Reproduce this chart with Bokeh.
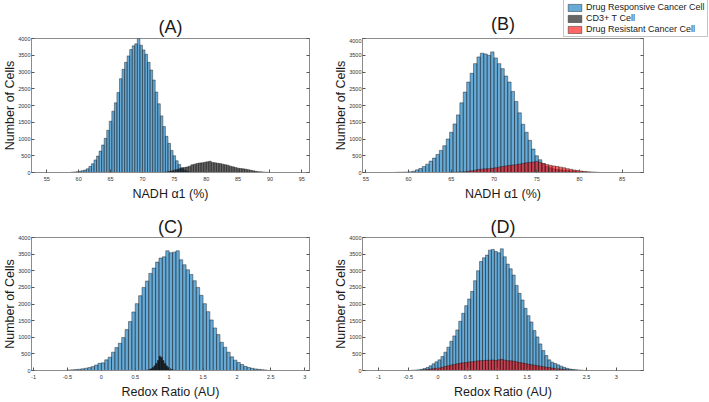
import numpy as np
from bokeh.plotting import figure
from bokeh.models import Range1d, LinearAxis, FixedTicker, Legend, LegendItem, Label
from bokeh.layouts import column, row
from bokeh.embed import file_html
from bokeh.resources import INLINE

FONT = "Liberation Sans"

# ---------------- data (bin start edge, bin width, counts) ----------------
# Panel A: NADH alpha1 (%)
a_blue_start, a_blue_width = 58.8, 0.4
a_blue_counts = [10, 15, 25, 35, 55, 75, 110, 180, 260, 375, 490, 640, 820, 1020, 1260,
                 1530, 1830, 2080, 2390, 2800, 3080, 3290, 3480, 3670, 3780, 3840, 4000,
                 3800, 3660, 3530, 3290, 3060, 2760, 2400, 2050, 1690, 1370, 1080, 870,
                 660, 500, 350, 240, 140, 70, 30, 10]
a_gray_start, a_gray_width = 73.2, 0.4
a_gray_counts = [5, 15, 30, 45, 65, 85, 110, 130, 150, 165, 190, 230, 250, 270, 285, 290,
                 305, 320, 335, 300, 290, 275, 265, 250, 235, 215, 190, 170, 150, 130, 120,
                 110, 100, 85, 65, 50, 35, 25, 20, 12, 8, 4]

# Panel B: NADH alpha1 (%)
b_blue_start, b_blue_width = 58.4, 0.4
b_blue_counts = [5, 8, 10, 15, 20, 40, 80, 120, 180, 250, 340, 430, 540, 660, 800, 1000,
                 1200, 1450, 1720, 2080, 2400, 2700, 2960, 3250, 3450, 3560, 3540, 3500,
                 3600, 3420, 3250, 3100, 2880, 2700, 2420, 2120, 1780, 1440, 1200, 960, 700,
                 500, 380, 260, 180, 140, 110, 88, 75, 65, 55, 45, 35, 25, 18, 12, 8, 5, 3]
b_red_start, b_red_width = 64.8, 0.4
b_red_counts = [5, 8, 12, 18, 25, 35, 50, 70, 90, 100, 110, 115, 125, 140, 160, 180, 195,
                210, 225, 235, 250, 270, 290, 300, 310, 330, 300, 270, 240, 215, 195, 180,
                160, 140, 115, 95, 75, 60, 45, 32, 22, 14, 8, 4]

# Panel C: Redox ratio (AU)
c_blue_start, c_blue_width = -0.5, 0.05
c_blue_counts = [15, 20, 28, 38, 50, 68, 88, 117, 165, 215, 230, 320, 400, 550, 690, 820,
                 990, 1230, 1470, 1760, 2010, 2250, 2500, 2690, 2920, 3080, 3260, 3380,
                 3420, 3600, 3540, 3560, 3600, 3330, 3180, 3030, 2890, 2700, 2500, 2260,
                 2010, 1770, 1520, 1280, 1080, 850, 700, 550, 410, 310, 240, 180, 125, 90,
                 65, 48, 35, 25, 15]
c_gray_start, c_gray_width = 0.65, 0.025
c_gray_counts = [8, 15, 30, 55, 90, 140, 210, 300, 430, 390, 300, 210, 140, 90, 55, 30, 15, 6]

# Panel D: Redox ratio (AU)
d_blue_start, d_blue_width = -0.45, 0.05
d_blue_counts = [8, 12, 20, 35, 60, 90, 140, 200, 260, 320, 420, 550, 700, 880, 1040, 1220,
                 1480, 1720, 1950, 2150, 2380, 2700, 3000, 3280, 3390, 3470, 3620, 3640,
                 3580, 3540, 3660, 3420, 3200, 3060, 2870, 2560, 2320, 2120, 1870, 1650,
                 1460, 1200, 1010, 800, 600, 450, 320, 250, 210, 170, 130, 95, 65, 45, 30,
                 20, 12, 6]
d_red_start, d_red_width = -0.3, 0.05
d_red_counts = [10, 20, 30, 45, 55, 65, 75, 95, 120, 140, 165, 180, 200, 215, 230, 240, 255,
                265, 275, 290, 295, 300, 305, 310, 315, 300, 320, 335, 310, 295, 290, 280,
                260, 240, 225, 210, 190, 175, 160, 145, 130, 115, 100, 88, 75, 62, 50, 40,
                32, 24, 18, 12, 8, 5, 3]

y_ticks = [0, 500, 1000, 1500, 2000, 2500, 3000, 3500, 4000]
ab_x_ticks_a = [55, 60, 65, 70, 75, 80, 85, 90, 95]
ab_x_ticks_b = [55, 60, 65, 70, 75, 80, 85]
cd_x_ticks = [-1, -0.5, 0, 0.5, 1, 1.5, 2, 2.5, 3]
cd_x_labels = ["-1", "-0.5", "0", "0.5", "1", "1.5", "2", "2.5", "3"]

legend_labels = ["Drug Responsive Cancer Cell", "CD3+ T Cell", "Drug Resistant Cancer Cell"]

BLUE = "#0072BD"
GRAY = "#000000"
RED = "#FF0000"
EDGE = "#1a1a1a"

# layout sizes (pixels)
W_AC, LEFT_AC, RIGHT_AC = 320, 30, 11
W_BD, LEFT_BD, RIGHT_BD = 388, 42, 65
FH = 137
TOP1, BOT1 = 38, 28
TOP2, BOT2 = 34, 27


def hist(p, start, width, counts, color, alpha):
    counts = np.asarray(counts, dtype=float)
    left = start + width * np.arange(len(counts))
    return p.quad(left=left, right=left + width, bottom=0, top=counts,
                  fill_color=color, fill_alpha=alpha,
                  line_color=EDGE, line_width=0.6, line_alpha=0.75)


def make_fig(title, xr, xticks, xlabel, w, left, right, top, bottom, tstandoff,
             xlabels=None):
    p = figure(output_backend="svg", toolbar_location=None,
               width=w, height=top + FH + bottom,
               min_border_left=left, min_border_right=right,
               min_border_top=top, min_border_bottom=bottom,
               x_range=Range1d(*xr), y_range=Range1d(0, 4000),
               background_fill_color="white", border_fill_color="white")
    if title:
        p.title.text = title
        p.title.align = "center"
        p.title.text_font = FONT
        p.title.text_font_size = "18px"
        p.title.text_font_style = "normal"
        p.title.text_color = "#1a1a1a"
        p.title.standoff = tstandoff
    else:
        p.title.visible = False
    p.grid.visible = False
    p.outline_line_color = "#8c8c8c"
    p.outline_line_width = 1
    for ax in (p.xaxis[0], p.yaxis[0]):
        ax.axis_line_color = "#8c8c8c"
        ax.major_tick_line_color = "#555555"
        ax.major_tick_in = 3
        ax.major_tick_out = 0
        ax.minor_tick_line_color = None
        ax.major_label_text_font = FONT
        ax.major_label_text_font_size = "5.5px"
        ax.major_label_text_color = "#333333"
        ax.axis_label_text_font = FONT
        ax.axis_label_text_font_size = "12.5px"
        ax.axis_label_text_font_style = "normal"
        ax.axis_label_text_color = "#1a1a1a"
    p.xaxis[0].major_label_standoff = 4
    p.xaxis[0].axis_label_standoff = 3
    p.yaxis[0].major_label_standoff = 1
    p.yaxis[0].axis_label_standoff = -2
    p.xaxis[0].ticker = FixedTicker(ticks=xticks)
    if xlabels is not None:
        p.xaxis[0].major_label_overrides = {t: l for t, l in zip(xticks, xlabels)}
    p.yaxis[0].ticker = FixedTicker(ticks=y_ticks)
    p.xaxis[0].axis_label = xlabel
    p.yaxis[0].axis_label = "Number of Cells"
    # box ticks on right side (no labels)
    ax = LinearAxis(ticker=FixedTicker(ticks=y_ticks), axis_line_color=None,
                    major_tick_in=3, major_tick_out=0,
                    major_tick_line_color="#555555",
                    minor_tick_line_color=None,
                    major_label_text_font_size="1px",
                    major_label_text_color=None,
                    major_label_standoff=0)
    p.add_layout(ax, "right")
    return p


pA = make_fig("(A)", (52.6, 96.2), ab_x_ticks_a, "NADH α1 (%)",
              W_AC, LEFT_AC, RIGHT_AC, TOP1, BOT1, 4)
hist(pA, a_blue_start, a_blue_width, a_blue_counts, BLUE, 0.6)
hist(pA, a_gray_start, a_gray_width, a_gray_counts, GRAY, 0.6)

pB = make_fig(None, (54.6, 87.5), ab_x_ticks_b, "NADH α1 (%)",
              W_BD, LEFT_BD, RIGHT_BD, 0, BOT1, 4)
hist(pB, b_blue_start, b_blue_width, b_blue_counts, BLUE, 0.6)
hist(pB, b_red_start, b_red_width, b_red_counts, RED, 0.6)

# strip above panel B holding its title and the shared legend
strip = figure(output_backend="svg", toolbar_location=None,
               width=W_BD, height=TOP1,
               min_border=0, x_axis_type=None, y_axis_type=None,
               x_range=Range1d(0, W_BD), y_range=Range1d(0, TOP1),
               outline_line_color=None, background_fill_color="white",
               border_fill_color="white")
if "frame_align" in strip.properties():
    strip.frame_align = False
strip.grid.visible = False
strip.title.visible = False
strip.add_layout(Label(x=LEFT_BD + (W_BD - LEFT_BD - RIGHT_BD) / 2, y=15,
                       x_units="screen", y_units="screen", text="(B)",
                       text_align="center", text_baseline="middle", text_font=FONT,
                       text_font_size="18px", text_color="#1a1a1a"))
# legend swatches: placeholder glyphs with no visible extent
lr = [strip.quad(left=[np.nan], right=[np.nan], bottom=[np.nan], top=[np.nan],
                 fill_color=c, fill_alpha=0.6,
                 line_color=EDGE, line_width=0.6, line_alpha=0.75)
      for c in (BLUE, GRAY, RED)]
legend = Legend(items=[LegendItem(label=legend_labels[i], renderers=[lr[i]])
                       for i in range(3)],
                location=(243, 1),
                label_text_font=FONT, label_text_font_size="9px",
                label_text_color="#1a1a1a",
                glyph_width=17, glyph_height=9, label_height=10, label_standoff=3,
                spacing=1, padding=2, margin=0,
                border_line_color="#8c8c8c", background_fill_alpha=1.0)
strip.add_layout(legend, "center")

pC = make_fig("(C)", (-1.03, 3.07), cd_x_ticks, "Redox Ratio (AU)",
              W_AC, LEFT_AC, RIGHT_AC, TOP2, BOT2, 1, cd_x_labels)
hist(pC, c_blue_start, c_blue_width, c_blue_counts, BLUE, 0.6)
hist(pC, c_gray_start, c_gray_width, c_gray_counts, GRAY, 0.75)

pD = make_fig("(D)", (-1.27, 3.46), cd_x_ticks, "Redox Ratio (AU)",
              W_BD, LEFT_BD, RIGHT_BD, TOP2, BOT2, 1, cd_x_labels)
hist(pD, d_blue_start, d_blue_width, d_blue_counts, BLUE, 0.6)
hist(pD, d_red_start, d_red_width, d_red_counts, RED, 0.6)

layout = column(row(pA, column(strip, pB, spacing=0), spacing=0),
                row(pC, pD, spacing=0), spacing=0)

open("out.html", "w").write(file_html(layout, INLINE))
